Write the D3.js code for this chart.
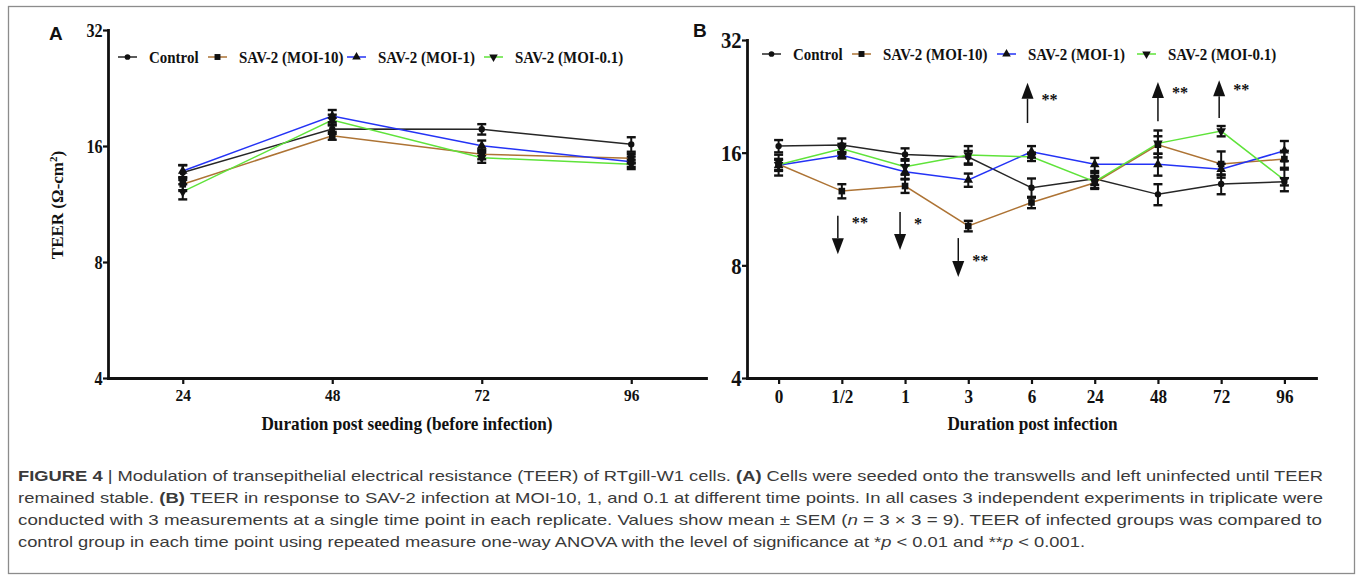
<!DOCTYPE html>
<html><head><meta charset="utf-8">
<script src="https://cdn.jsdelivr.net/npm/d3@7"></script>
<style>
html,body{margin:0;padding:0;background:#fff;}
svg{display:block;}
</style></head><body>
<svg id="fig" width="1358" height="577"></svg>
<script>
// ---- time points ----
const timesA = ["24", "48", "72", "96"];
const timesB = ["0", "1/2", "1", "3", "6", "24", "48", "72", "96"];
const seriesNames = ["Control", "SAV-2 (MOI-10)", "SAV-2 (MOI-1)", "SAV-2 (MOI-0.1)"];
const yTicks = [4, 8, 16, 32];

// ---- panel A: TEER (Ω-cm²) before infection, mean ----
const controlA = [13.66, 17.71, 17.68, 16.16];
const moi10A   = [12.73, 17.01, 15.23, 14.86];
const moi1A    = [13.78, 19.14, 16.03, 14.57];
const moi01A   = [12.18, 18.69, 14.92, 14.34];
// SEM
const controlSemA = [0.6, 0.5, 0.55, 0.7];
const moi10SemA   = [0.5, 0.4, 0.45, 0.4];
const moi1SemA    = [0.5, 0.7, 0.5, 0.45];
const moi01SemA   = [0.55, 0.6, 0.45, 0.4];

// ---- panel B: TEER (Ω-cm²) after infection, mean ----
const controlB = [16.66, 16.76, 15.83, 15.57, 12.89, 13.63, 12.38, 13.19, 13.38];
const moi10B   = [14.90, 12.63, 13.03, 10.19, 11.78, 13.30, 16.80, 14.92, 15.38];
const moi1B    = [14.80, 15.74, 14.22, 13.52, 16.09, 14.89, 14.89, 14.44, 16.19];
const moi01B   = [14.85, 16.39, 14.67, 15.76, 15.60, 13.38, 16.94, 18.27, 13.52];
// SEM
const controlSemB = [0.63, 0.7, 0.6, 0.6, 0.76, 0.5, 0.8, 0.8, 0.3];
const moi10SemB   = [0.5, 0.55, 0.54, 0.33, 0.41, 0.5, 0.9, 1.2, 0.8];
const moi1SemB    = [0.5, 0.3, 0.6, 0.55, 0.57, 0.6, 1.0, 0.5, 1.0];
const moi01SemB   = [0.95, 0.5, 0.7, 0.9, 0.4, 0.5, 1.4, 0.58, 0.9];

// ---- significance vs control (panel B) ----
const sigTimes = ["1/2", "1", "3", "6", "48", "72"];
const sigMarks = ["**", "*", "**", "**", "**", "**"];
const sigFrom  = [10.85, 11.1, 9.46, 19.2, 19.4, 19.8];   // arrow tail (TEER)
const sigTo    = [8.57, 8.79, 7.45, 24.6, 24.7, 25.0];    // arrow tip (TEER)

// ---- styling ----
const colors = ["#262626", "#ad7334", "#2433f5", "#5fe33a"];
const shapes = [d3.symbolCircle, d3.symbolSquare, d3.symbolTriangle, d3.symbolTriangle];
const shapeRot = [0, 0, 0, 180];
const shapeSize = [32, 44, 40, 40];
const serif = "'Liberation Serif','Times New Roman',serif";

const svg = d3.select("#fig");
svg.append("rect").attr("width", 1358).attr("height", 577).attr("fill", "#fff");
svg.append("rect").attr("x", 8.5).attr("y", 6.5).attr("width", 1346).attr("height", 567)
  .attr("fill", "none").attr("stroke", "#8c8c8c").attr("stroke-width", 1.3);

// condensed serif label helper
function label(g, x, y, str, size, sx, anchor, rot) {
  return g.append("text")
    .attr("transform", `translate(${x},${y})` + (rot ? ` rotate(${rot})` : "") + ` scale(${sx},1)`)
    .attr("text-anchor", anchor || "start")
    .style("font-family", serif).style("font-weight", "bold")
    .style("font-size", size + "px").attr("fill", "#111").text(str);
}

function drawPanel(cfg) {
  const g = svg.append("g");
  const x = d3.scalePoint().domain(cfg.times).range(cfg.xRange).padding(0.5);
  const y = d3.scaleLog().base(2).domain([4, 32]).range(cfg.yRange);

  const series = cfg.means.map((m, i) => cfg.times.map((t, j) => ({ t, v: m[j], s: cfg.sems[i][j] })));

  // lines
  const line = d3.line().x(d => x(d.t)).y(d => y(d.v));
  series.forEach((s, i) => {
    g.append("path").datum(s).attr("d", line).attr("fill", "none")
      .attr("stroke", colors[i]).attr("stroke-width", 1.5);
  });
  // error bars
  series.forEach((s) => {
    const eb = g.append("g").selectAll("g").data(s).join("g")
      .attr("stroke", "#111").attr("stroke-width", 2);
    eb.append("line").attr("x1", d => x(d.t)).attr("x2", d => x(d.t))
      .attr("y1", d => y(d.v + d.s)).attr("y2", d => y(d.v - d.s));
    eb.append("line").attr("x1", d => x(d.t) - 4.5).attr("x2", d => x(d.t) + 4.5)
      .attr("y1", d => y(d.v + d.s)).attr("y2", d => y(d.v + d.s)).attr("stroke-width", 2.4);
    eb.append("line").attr("x1", d => x(d.t) - 4.5).attr("x2", d => x(d.t) + 4.5)
      .attr("y1", d => y(d.v - d.s)).attr("y2", d => y(d.v - d.s)).attr("stroke-width", 2.4);
  });
  // markers
  series.forEach((s, i) => {
    g.append("g").selectAll("path").data(s).join("path")
      .attr("d", d3.symbol().type(shapes[i]).size(shapeSize[i]))
      .attr("transform", d => `translate(${x(d.t)},${y(d.v)}) rotate(${shapeRot[i]})`)
      .attr("fill", "#111");
  });

  // axes
  const ax = g.append("g").attr("transform", `translate(0,${cfg.yRange[0]})`)
    .call(d3.axisBottom(x).tickSize(6).tickSizeOuter(0).tickPadding(5));
  const ay = g.append("g").attr("transform", `translate(${cfg.xRange[0]},0)`)
    .call(d3.axisLeft(y).tickValues(yTicks).tickFormat(d3.format("d")).tickSize(5).tickSizeOuter(0).tickPadding(1));
  [ax, ay].forEach(a => {
    a.select(".domain").attr("stroke", "#111").attr("stroke-width", 2.8).attr("stroke-linecap", "square");
    a.selectAll(".tick line").attr("stroke", "#111").attr("stroke-width", 2.2);
    a.selectAll(".tick text").style("font-family", serif).style("font-weight", "bold").attr("fill", "#111");
  });
  ax.selectAll(".tick text").style("font-size", cfg.xTickSize + "px").attr("transform", "scale(0.88,1)");
  ay.selectAll(".tick text").style("font-size", cfg.yTickSize + "px").attr("transform", "scale(0.9,1)")
    .attr("dy", "0.34em");

  // legend
  cfg.legendX.forEach((lx, i) => {
    const ly = cfg.legendY;
    g.append("line").attr("x1", lx).attr("x2", lx + 19).attr("y1", ly).attr("y2", ly)
      .attr("stroke", colors[i]).attr("stroke-width", 1.5);
    g.append("path").attr("d", d3.symbol().type(shapes[i]).size(shapeSize[i] * 0.8))
      .attr("transform", `translate(${lx + 9.5},${ly}) rotate(${shapeRot[i]})`).attr("fill", "#111");
    label(g, lx + 31, ly + 5.5, seriesNames[i], 17, 0.88);
  });

  // titles
  label(g, (cfg.xRange[0] + cfg.xRange[1]) / 2 + cfg.titleShift, 430, cfg.xTitle, 18.5, 0.93, "middle");
  g.append("text").attr("x", cfg.panelX).attr("y", cfg.panelY)
    .style("font-family", "'Liberation Sans',Arial,sans-serif").style("font-weight", "bold")
    .style("font-size", "19px").attr("fill", "#111").text(cfg.panel);
  return { g, x, y };
}

drawPanel({
  times: timesA, xRange: [108, 706], yRange: [378, 30],
  means: [controlA, moi10A, moi1A, moi01A],
  sems: [controlSemA, moi10SemA, moi1SemA, moi01SemA],
  xTickSize: 17.5, yTickSize: 18,
  legendX: [118, 208, 347, 484], legendY: 57,
  xTitle: "Duration post seeding (before infection)", titleShift: 0,
  panel: "A", panelX: 49, panelY: 40
});

const pB = drawPanel({
  times: timesB, xRange: [747, 1316], yRange: [378, 40],
  means: [controlB, moi10B, moi1B, moi01B],
  sems: [controlSemB, moi10SemB, moi1SemB, moi01SemB],
  xTickSize: 19.5, yTickSize: 23,
  legendX: [762, 852, 997, 1137], legendY: 54,
  xTitle: "Duration post infection", titleShift: 1,
  panel: "B", panelX: 693, panelY: 37
});

// y-axis title (panel A)
const yt = svg.append("text").attr("transform", "translate(63,205) rotate(-90)")
  .attr("text-anchor", "middle").style("font-family", serif).style("font-weight", "bold")
  .style("font-size", "17px").attr("fill", "#111");
yt.append("tspan").text("TEER (Ω-cm");
yt.append("tspan").attr("dy", -6).style("font-size", "11px").text("2");
yt.append("tspan").attr("dy", 6).text(")");

// significance arrows
const arrowShift = [-4, -5, -10, -4, 0, -2];
const sg = svg.append("g");
sigTimes.forEach((t, i) => {
  const ax = pB.x(t) + arrowShift[i];
  const y0 = pB.y(sigFrom[i]), y1 = pB.y(sigTo[i]);
  const dir = y1 > y0 ? 1 : -1;
  const headLen = 16, headW = 6;
  sg.append("line").attr("x1", ax).attr("x2", ax).attr("y1", y0).attr("y2", y1 - dir * headLen)
    .attr("stroke", "#111").attr("stroke-width", 1.5);
  sg.append("path").attr("d", `M${ax - headW},${y1 - dir * headLen} L${ax + headW},${y1 - dir * headLen} L${ax},${y1} Z`)
    .attr("fill", "#111");
  const ly = dir > 0 ? Math.min(y0, y1) + (i === 0 ? 12 : i === 1 ? 17 : 28) : (y0 + y1) / 2 + 2 - (i > 3 ? 6 : 0);
  label(sg, ax + 14, ly, sigMarks[i], 17, 0.95, "start");
});

// caption
const cap = svg.append("g").style("font-family", "'Liberation Sans',Arial,sans-serif")
  .style("font-size", "15px").attr("fill", "#3a3a3a");
const capLines = [
  [["FIGURE 4", "b"], [" | Modulation of transepithelial electrical resistance (TEER) of RTgill-W1 cells. ", ""], ["(A)", "b"], [" Cells were seeded onto the transwells and left uninfected until TEER", ""]],
  [["remained stable. ", ""], ["(B)", "b"], [" TEER in response to SAV-2 infection at MOI-10, 1, and 0.1 at different time points. In all cases 3 independent experiments in triplicate were", ""]],
  [["conducted with 3 measurements at a single time point in each replicate. Values show mean ± SEM (", ""], ["n", "i"], [" = 3 × 3 = 9). TEER of infected groups was compared to", ""]],
  [["control group in each time point using repeated measure one-way ANOVA with the level of significance at *", ""], ["p", "i"], [" < 0.01 and **", ""], ["p", "i"], [" < 0.001.", ""]]
];
const capWidths = [1305, 1305, 1304, 1067];
capLines.forEach((parts, i) => {
  const t = cap.append("text").attr("x", 18).attr("y", 481 + i * 22)
    .attr("textLength", capWidths[i]).attr("lengthAdjust", "spacingAndGlyphs");
  parts.forEach(([s, f]) => {
    const ts = t.append("tspan").text(s);
    if (f === "b") ts.style("font-weight", "bold");
    if (f === "i") ts.style("font-style", "italic");
  });
});
</script>
</body></html>
